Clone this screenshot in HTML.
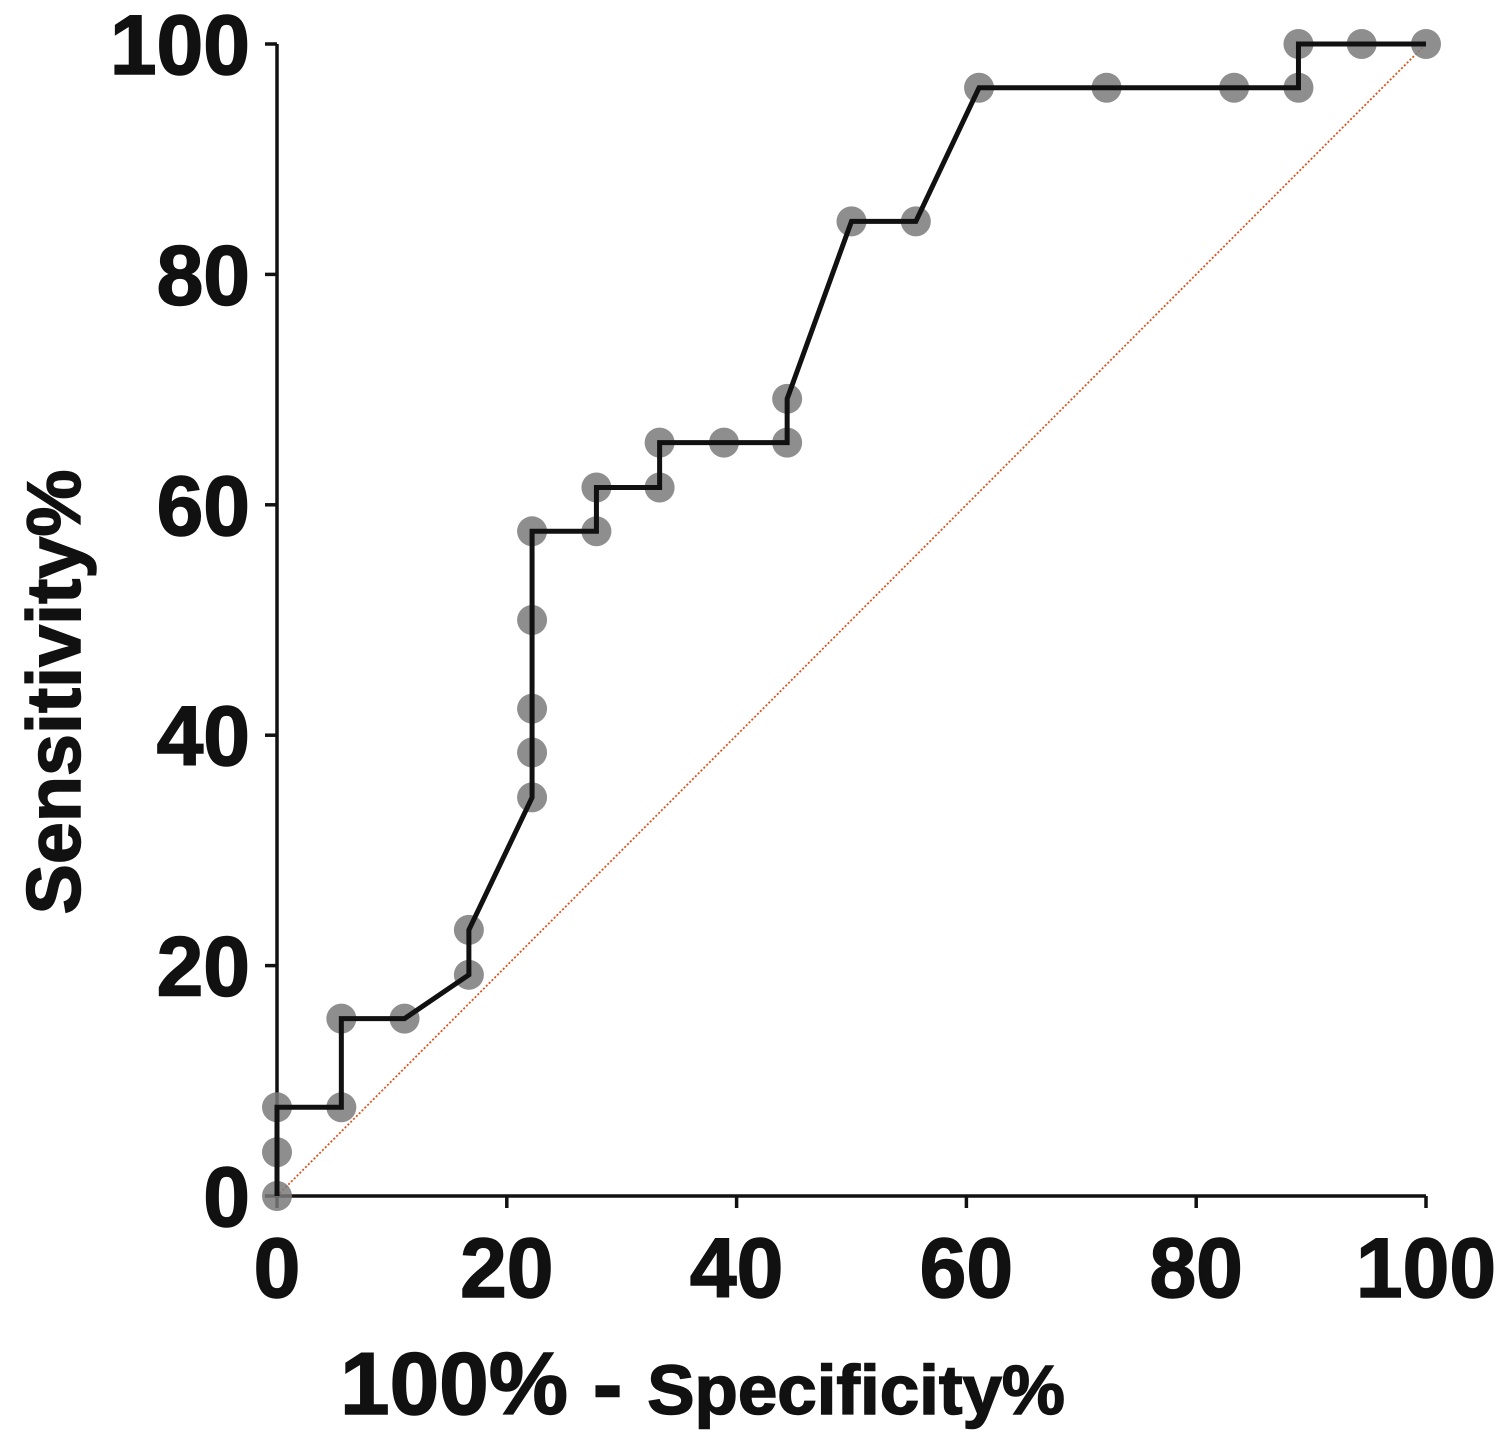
<!DOCTYPE html>
<html><head><meta charset="utf-8"><style>
body{margin:0;background:#fff}
text{font-family:"Liberation Sans",Arial,sans-serif;font-weight:bold;fill:#111;stroke:#111;stroke-width:1.5}
</style></head><body>
<svg id="chart" width="1500" height="1448" viewBox="0 0 1500 1448" xmlns="http://www.w3.org/2000/svg">
</svg>
<script>
const fprValues=[0,0,0,5.6,5.6,11.1,16.7,16.7,22.2,22.2,22.2,22.2,22.2,27.8,27.8,33.3,33.3,38.9,44.4,44.4,50,55.6,61.1,72.2,83.3,88.9,88.9,94.4,100];
const sensValues=[0,3.8,7.7,7.7,15.4,15.4,19.2,23.1,34.6,38.5,42.3,50,57.7,57.7,61.5,61.5,65.4,65.4,65.4,69.2,84.6,84.6,96.2,96.2,96.2,96.2,100,100,100];
const xTicks=[0,20,40,60,80,100];
const yTicks=[0,20,40,60,80,100];
const NS="http://www.w3.org/2000/svg";
const svg=document.getElementById('chart');
const X0=277,X1=1426,Y0=1196,Y1=44;
const sx=v=>X0+(X1-X0)*v/100, sy=v=>Y0-(Y0-Y1)*v/100;
function mk(t,a,p){const e=document.createElementNS(NS,t);for(const k in a)e.setAttribute(k,a[k]);(p||svg).appendChild(e);return e;}
let d=mk('line',{x1:sx(0),y1:sy(0),x2:sx(100),y2:sy(100),stroke:'#d9541e','stroke-width':1.8,'stroke-dasharray':'2,2'});


let ax=mk('line',{x1:X0,y1:Y0,x2:X1,y2:Y0,stroke:'#111','stroke-width':3.5});


let ay=mk('line',{x1:X0,y1:Y0,x2:X0,y2:Y1,stroke:'#111','stroke-width':3.5});


xTicks.forEach(v=>{
 let t=mk('line',{x1:sx(v),y1:Y0,x2:sx(v),y2:Y0+12,stroke:'#111','stroke-width':3.5});
 
 
 let l=mk('text',{x:sx(v),y:1297,'text-anchor':'middle','font-size':84});
 l.textContent=v;
 
 
});
yTicks.forEach(v=>{
 let t=mk('line',{x1:X0-12,y1:sy(v),x2:X0,y2:sy(v),stroke:'#111','stroke-width':3.5});
 
 
 let l=mk('text',{x:250,y:sy(v)+30,'text-anchor':'end','font-size':84});
 l.textContent=v;
 
 
});
fprValues.forEach((v,i)=>{
 let c=mk('circle',{cx:sx(v),cy:sy(sensValues[i]),r:15,fill:'#7a7a7a','fill-opacity':0.85});
 
 
});
let pl=mk('polyline',{points:fprValues.map((v,i)=>sx(v)+','+sy(sensValues[i])).join(' '),fill:'none',stroke:'#111','stroke-width':5});


</script>
<svg style="position:absolute;left:0;top:0" width="1500" height="1448">
<text x="340" y="1414" font-size="88" textLength="725" lengthAdjust="spacingAndGlyphs">100% - <tspan font-size="70">Specificity%</tspan></text>
<text transform="translate(80,692) rotate(-90)" text-anchor="middle" font-size="76" textLength="445" lengthAdjust="spacingAndGlyphs">Sensitivity%</text>
</svg>
</body></html>
